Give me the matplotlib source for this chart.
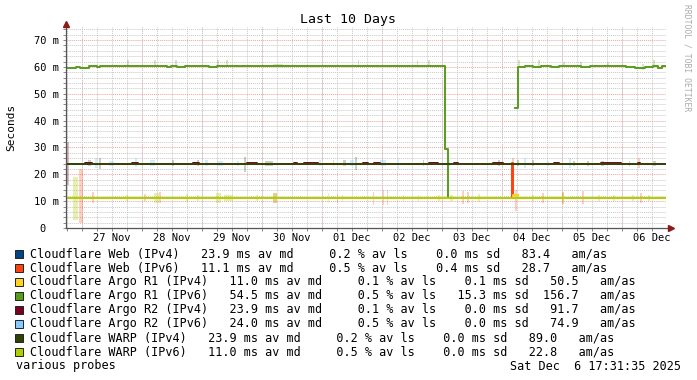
import datetime as dt
import numpy as np
import matplotlib
matplotlib.use('Agg')
import matplotlib.pyplot as plt
import matplotlib.dates as mdates
from matplotlib.patches import Rectangle
from matplotlib.ticker import MultipleLocator, FuncFormatter

plt.rcParams['font.family'] = ['DejaVu Sans Mono', 'DejaVu Sans']

W, H = 697, 380
start = dt.datetime(2025, 11, 26, 17, 31, 35)

names = ['Cloudflare Web (IPv4)', 'Cloudflare Web (IPv6)',
         'Cloudflare Argo R1 (IPv4)', 'Cloudflare Argo R1 (IPv6)',
         'Cloudflare Argo R2 (IPv4)', 'Cloudflare Argo R2 (IPv6)',
         'Cloudflare WARP (IPv4)', 'Cloudflare WARP (IPv6)']
colors = ['#004586', '#ff420e', '#ffd320', '#579d1c',
          '#7e0021', '#83caff', '#314004', '#aecf00']
avg_md = [23.9, 11.1, 11.0, 54.5, 23.9, 24.0, 23.9, 11.0]
avg_ls = [0.2, 0.5, 0.1, 0.5, 0.1, 0.5, 0.2, 0.5]
avg_sd = [0.0, 0.4, 0.1, 15.3, 0.0, 0.0, 0.0, 0.0]
am_as = [83.4, 28.7, 50.5, 156.7, 91.7, 74.9, 89.0, 22.8]

# median lines: hours since start -> ms, each value held until the next point
web4_h = [0, 7.6, 8.8, 240]
web4_v = [23.9, 24.2, 23.9, 23.9]
web6_h = [0, 178.3, 178.7, 180.9, 240]
web6_v = [11.1, 24.1, 12.4, 11.1, 11.1]
r1v4_h = [0, 178.7, 180.9, 240]
r1v4_v = [11.0, 12.4, 11.0, 11.0]
r1v6_h = [0, 4.0, 5.6, 9.2, 12.4, 13.6, 40.5, 42.1, 44.5, 45.7, 47.7, 49.3,
          57.3, 60.5, 151.5, 152.7, 153.1, 179.5, 180.7, 183.5, 186.7, 189.9,
          193.9, 197.1, 201.6, 205.9, 209.6, 215.2, 219.2, 224.0, 227.6,
          231.6, 234.8, 236.8, 238.4, 240]
r1v6_v = [59.7, 60.0, 59.6, 60.3, 60.1, 60.4, 60.0, 60.4, 60.1, 59.9, 60.2,
          60.4, 60.0, 60.4, 29.6, 11.2, np.nan, 44.8, 60.1, 60.4, 60.0, 60.3,
          59.8, 60.2, 60.4, 60.1, 60.4, 60.2, 60.4, 59.8, 59.5, 60.0, 60.4,
          59.7, 60.2, 60.2]
r2v4_h = [0, 8.0, 10.4, 26.4, 28.9, 50.9, 53.3, 72.5, 76.5, 91.0, 92.2,
          95.0, 100.6, 118.6, 120.6, 123.0, 125.8, 145.1, 148.7, 155.1,
          156.7, 170.7, 174.7, 195.1, 197.1, 214.0, 222.0, 228.8, 229.6, 240]
r2v4_v = [23.9, 24.3, 23.9, 24.3, 23.9, 24.3, 23.9, 24.3, 23.9, 24.3, 23.9,
          24.3, 23.9, 24.3, 23.9, 24.3, 23.9, 24.3, 23.9, 24.3, 23.9, 24.3,
          23.9, 24.3, 23.9, 24.3, 23.9, 24.3, 23.9, 23.9]
r2v6_h = [0, 240]
r2v6_v = [23.8, 23.8]
warp4_h = [0, 240]
warp4_v = [23.9, 23.9]
warp6_h = [0, 240]
warp6_v = [11.0, 11.0]

line_h = [web4_h, web6_h, r1v4_h, r1v6_h, r2v4_h, r2v6_h, warp4_h, warp6_h]
line_v = [web4_v, web6_v, r1v4_v, r1v6_v, r2v4_v, r2v6_v, warp4_v, warp6_v]

# smoke: (from hour, to hour, low ms, high ms) per series index
smoke = {
    1: [(5.2, 6.8, 2.0, 22.0), (10.4, 11.2, 9.4, 13.5), (31.3, 32.1, 10.0, 12.6),
        (37.3, 38.1, 9.4, 13.5), (82.9, 84.5, 9.4, 13.0), (106.6, 107.4, 23.0, 25.2),
        (108.2, 109.0, 9.4, 12.8), (122.6, 123.4, 8.5, 13.5), (126.6, 127.4, 8.5, 14.0),
        (128.2, 129.0, 8.5, 14.0), (158.3, 159.1, 8.8, 13.8), (160.3, 161.1, 9.2, 13.5),
        (178.3, 179.1, 23.0, 26.0), (179.5, 180.3, 6.5, 14.0), (190.3, 191.1, 9.4, 13.0),
        (198.3, 199.1, 9.0, 13.5), (206.4, 207.2, 8.8, 13.8), (228.8, 229.6, 22.4, 26.2),
        (229.6, 230.4, 9.4, 13.0)],
    3: [(24.4, 25.2, 59.8, 62.4), (35.3, 36.1, 59.8, 62.4), (43.7, 44.5, 59.8, 62.4),
        (60.5, 61.3, 59.8, 62.4), (64.1, 64.9, 59.8, 62.4), (82.9, 86.6, 59.8, 61.2),
        (116.6, 117.4, 59.8, 62.4), (140.2, 141.0, 59.8, 62.4), (144.7, 145.5, 59.8, 62.4),
        (180.7, 181.5, 59.8, 62.4), (188.7, 189.5, 59.8, 62.4), (198.7, 199.5, 59.8, 62.0),
        (205.5, 206.3, 59.8, 62.0), (216.4, 217.2, 59.8, 62.0), (230.4, 231.2, 58.8, 61.0),
        (234.8, 235.6, 59.8, 62.4)],
    4: [(0.3, 1.3, 16.0, 32.0)],
    5: [(3.0, 3.4, 20.5, 42.0), (11.6, 12.4, 22.5, 26.2), (17.2, 19.0, 23.0, 25.0),
        (27.6, 28.4, 22.8, 26.2), (33.4, 35.8, 23.2, 25.3), (55.4, 57.0, 23.0, 25.3),
        (60.2, 63.0, 23.2, 25.0), (68.5, 69.3, 23.2, 25.0), (101.4, 102.2, 23.0, 25.2),
        (113.6, 115.2, 23.0, 25.2), (125.6, 127.8, 23.2, 25.2), (132.6, 133.4, 22.0, 26.2),
        (153.0, 153.6, 23.0, 25.2), (183.1, 183.9, 22.4, 26.2), (192.3, 193.1, 23.0, 25.0),
        (201.2, 202.0, 22.4, 26.2)],
    6: [(8.6, 10.2, 23.0, 25.2), (13.2, 14.0, 22.0, 26.2), (42.5, 43.3, 23.0, 25.4),
        (52.5, 53.3, 23.0, 25.2), (71.3, 72.1, 21.0, 26.5), (79.7, 82.9, 23.0, 25.0),
        (110.6, 112.2, 23.0, 25.2), (115.6, 116.2, 21.5, 26.5), (142.6, 143.4, 23.0, 25.2),
        (172.9, 173.5, 23.0, 25.2), (180.5, 181.1, 23.0, 25.2), (186.3, 187.1, 23.0, 25.2),
        (202.8, 203.6, 23.0, 25.0), (208.4, 209.2, 23.0, 25.0), (213.8, 215.2, 23.0, 25.0),
        (225.0, 225.6, 23.0, 25.0), (234.6, 236.2, 23.0, 25.0)],
    7: [(2.8, 4.8, 3.0, 19.0), (24.0, 24.8, 10.0, 12.2), (35.3, 37.3, 9.4, 13.0),
        (48.1, 48.9, 9.8, 12.5), (52.5, 53.3, 10.0, 12.2), (60.1, 62.1, 9.4, 13.0),
        (63.3, 66.9, 10.0, 12.2), (76.1, 76.9, 10.0, 12.2), (82.9, 84.5, 9.4, 13.0),
        (104.6, 105.4, 9.4, 13.0), (110.2, 111.0, 10.0, 12.2), (134.6, 135.4, 10.0, 12.2),
        (140.6, 141.4, 10.0, 12.2), (148.7, 149.5, 10.0, 12.2), (153.5, 154.7, 10.0, 12.2),
        (164.7, 165.5, 9.8, 12.5), (186.3, 187.1, 10.0, 12.2), (198.3, 199.1, 9.4, 13.0),
        (212.8, 213.6, 10.0, 12.2), (218.8, 219.6, 10.0, 12.2), (226.4, 227.2, 10.0, 12.2),
        (232.8, 233.6, 10.0, 12.2)],
}
smoke_alpha = {1: 0.25, 3: 0.25, 4: 0.25, 5: 0.35, 6: 0.25, 7: 0.3}

base = mdates.date2num(start)


def tx(h):
    return base + np.asarray(h, dtype=float) / 24.0


fig = plt.figure(figsize=(W / 100, H / 100), dpi=100)
fig.patch.set_facecolor('white')
ax = fig.add_axes([66 / W, 1 - 228 / H, 600 / W, 201.4 / H])
ax.set_facecolor('white')
ax.set_xlim(base, base + 10)
ax.set_ylim(0, 75)

# grid
grid_gray = '#c8c8c8'
grid_red = '#f2a0a0'
ax.xaxis.set_major_locator(mdates.HourLocator(byhour=12))
ax.xaxis.set_minor_locator(mdates.HourLocator(byhour=[0, 6, 18]))
ax.xaxis.set_major_formatter(mdates.DateFormatter('%d %b'))
ax.yaxis.set_major_locator(MultipleLocator(10))
ax.yaxis.set_minor_locator(MultipleLocator(2))
ax.yaxis.set_major_formatter(FuncFormatter(lambda v, p: '0  ' if v == 0 else '%d m' % v))
ax.grid(which='both', axis='x', color=grid_gray, ls=(0, (1, 1)), lw=0.7, zorder=0)
ax.grid(which='minor', axis='y', color=grid_gray, ls=(0, (1, 1)), lw=0.7, zorder=0)
ax.grid(which='major', axis='y', color=grid_red, ls=(0, (1, 1)), lw=0.7, zorder=0)
for d in np.arange(np.ceil(base), base + 10, 1.0):
    ax.axvline(d, color=grid_red, ls=(0, (1, 1)), lw=0.7, zorder=0.5)
ax.set_axisbelow(True)

# smoke
for i, bars in smoke.items():
    for h0, h1, lo, hi in bars:
        ax.bar(tx(h0), hi - lo, width=(h1 - h0) / 24.0, bottom=lo, align='edge',
               color=colors[i], alpha=smoke_alpha[i], lw=0, zorder=1)

# median lines
for i in range(len(names)):
    ax.step(tx(line_h[i]), line_v[i], where='post', color=colors[i], lw=1.4, zorder=2 + i)

# axes
for s in ax.spines.values():
    s.set_visible(False)
ax.plot([0, 0], [0, 1.01], transform=ax.transAxes, clip_on=False, color='#555555', lw=0.9, zorder=20)
ax.plot([0, 1.006], [0, 0], transform=ax.transAxes, clip_on=False, color='#555555', lw=0.9, zorder=20)
ax.plot([0], [1.014], marker='^', ms=4, color='#8b1a1a', transform=ax.transAxes, clip_on=False, zorder=21)
ax.plot([1.0075], [0], marker='>', ms=4, color='#8b1a1a', transform=ax.transAxes, clip_on=False, zorder=21)
ax.tick_params(axis='both', which='both', direction='out', length=2, width=0.6, color='#777777',
               labelsize=7.5, labelcolor='black')
ax.tick_params(axis='x', which='major', pad=1.5)
ax.tick_params(axis='y', which='major', pad=3)

# texts
fig.text(348 / W, 1 - 19 / H, 'Last 10 Days', ha='center', va='center', fontsize=9.5)
fig.text(11 / W, 1 - 127 / H, 'Seconds', ha='center', va='center', rotation=90, fontsize=8)
fig.text(687 / W, 1 - 58 / H, 'RRDTOOL / TOBI OETIKER', ha='center', va='center',
         rotation=270, fontsize=5.8, color='#aaaaaa')

for i in range(len(names)):
    y = 254 + 14 * i
    fig.add_artist(Rectangle((15 / W, 1 - (y + 4) / H), 8 / W, 8 / H, transform=fig.transFigure,
                             facecolor=colors[i], edgecolor='#222222', lw=0.7))
    line = '%s   %4.1f ms av md     %3.1f %% av ls   %4.1f ms sd  %5.1f   am/as' % (
        names[i], avg_md[i], avg_ls[i], avg_sd[i], am_as[i])
    fig.text(30 / W, 1 - y / H, line, ha='left', va='center', fontsize=8.45)

fig.text(16 / W, 1 - 366 / H, 'various probes', ha='left', va='center', fontsize=8.45)
fig.text(681 / W, 1 - 366 / H, 'Sat Dec  6 17:31:35 2025', ha='right', va='center', fontsize=8.45)

fig.savefig('out.png', dpi=100, facecolor='white')
